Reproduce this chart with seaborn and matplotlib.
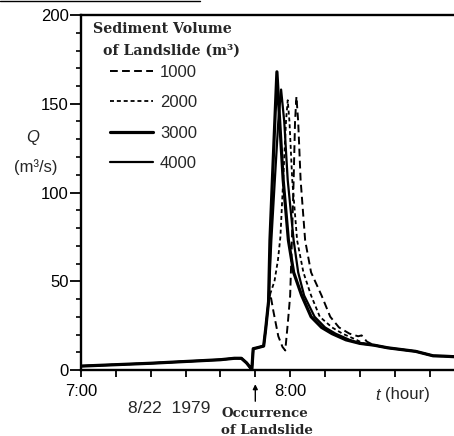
import matplotlib
matplotlib.use("Agg")
import matplotlib.pyplot as plt
import seaborn as sns
import pandas as pd
from matplotlib.lines import Line2D

sns.set_style("ticks")
plt.rcParams['font.family'] = ['Liberation Sans', 'DejaVu Sans']

# Time in minutes after 7:00, discharge Q in m^3/s
base_t = [0, 10, 20, 30, 40, 44, 46, 47.5, 48.5, 49, 49.4, 50.5, 52.4]
base_q = [2.2, 3.0, 3.8, 4.8, 5.8, 6.6, 6.6, 4.0, 1.5, 0.0, 12.0, 12.5, 13.5]

t_1000 = [53, 53.8, 54.3, 55.2, 56.6, 57.8, 58.6, 59.4, 60, 60.5, 61, 61.4, 61.8,
          62.3, 63, 64.3, 66, 69, 71.5, 74, 77, 79.5, 80.5, 82]
q_1000 = [23.5, 38.5, 43, 33, 19, 13, 11, 28, 42, 73, 107, 140, 154,
          140, 107, 73, 55, 42, 30, 24, 20.5, 19, 19.5, 16]

t_2000 = [53, 53.8, 54.3, 55.5, 56.5, 57.2, 58, 58.8, 59.3, 59.8, 60.6, 62,
          63.8, 66, 68.5, 72, 75, 79, 81]
q_2000 = [23.5, 38.5, 43, 50, 62, 75, 107, 140, 152, 140, 107, 73,
          55, 42, 30, 24, 20.5, 17, 15]

t_3000 = [53, 53.8, 54.2, 54.9, 55.6, 56.2, 57.0, 58.0, 59.5, 61, 63.3, 66, 69, 72, 76, 80]
q_3000 = [23.5, 38.5, 73, 107, 140, 168, 140, 107, 73, 55, 42, 30, 24, 20.5, 17, 15]

t_4000 = [53, 53.8, 54.6, 55.6, 56.6, 57.4, 58.3, 59.3, 61, 62.3, 64, 67, 70, 73, 77, 80]
q_4000 = [23.5, 38.5, 73, 107, 140, 158, 140, 107, 73, 55, 42, 30, 24, 20.5, 17, 15]

tail_t = [84, 88, 92, 96, 99, 101, 104, 107]
tail_q = [14, 12.5, 11.5, 10.5, 9, 8, 7.8, 7.5]

volumes = ["1000", "2000", "3000", "4000"]
series_t = [t_1000, t_2000, t_3000, t_4000]
series_q = [q_1000, q_2000, q_3000, q_4000]

line_widths = {"1000": 1.4, "2000": 1.3, "3000": 2.3, "4000": 1.6}
line_dashes = {"1000": (4, 2.2), "2000": (2.2, 1.6), "3000": None, "4000": None}

rows = []
for vol, ts, qs in zip(volumes, series_t, series_q):
    for t, q in zip(base_t + ts + tail_t, base_q + qs + tail_q):
        rows.append({"t": t, "Q": q, "volume": vol})
df = pd.DataFrame(rows)

fig = plt.figure(figsize=(4.54, 4.36), dpi=100)
ax = fig.add_axes([81 / 454, 66 / 436, 373 / 454, 355 / 436])

for vol in volumes:
    sub = df[df["volume"] == vol]
    sns.lineplot(data=sub, x="t", y="Q", ax=ax, color="black",
                 lw=line_widths[vol], estimator=None, sort=False)
    ln = ax.lines[-1]
    if line_dashes[vol] is not None:
        ln.set_dashes(line_dashes[vol])
    ln.set_solid_joinstyle("round")

ax.set_xlim(0, 107)
ax.set_ylim(0, 200)
ax.set_xlabel("")
ax.set_ylabel("")

# axes frame
for side in ["left", "bottom", "top"]:
    ax.spines[side].set_linewidth(1.7)
    ax.spines[side].set_color("black")
ax.spines["right"].set_visible(False)

# ticks
ax.set_xticks(list(range(0, 101, 10)))
ax.set_xticklabels(["7:00", "", "", "", "", "", "8:00", "", "", "", ""])
ax.tick_params(axis="x", direction="out", length=5, width=1.3, pad=5,
               labelsize=12, colors="black")
ax.set_yticks([0, 50, 100, 150, 200])
ax.set_yticks(list(range(0, 201, 10)), minor=True)
ax.tick_params(axis="y", which="major", direction="out", length=8, width=1.3,
               pad=1, labelsize=12, colors="black")
ax.tick_params(axis="y", which="minor", direction="out", length=3.5, width=1.2,
               colors="black")

# axis labels
fig.text(33 / 454, 1 - 137 / 436, "Q", fontsize=12, style="italic",
         ha="center", va="center")
fig.text(36 / 454, 1 - 167 / 436, "(m³/s)", fontsize=12, ha="center", va="center")
fig.text(375 / 454, 1 - 395 / 436, "t", fontsize=12, style="italic",
         ha="left", va="center")
fig.text(385 / 454, 1 - 395 / 436, "(hour)", fontsize=12, ha="left", va="center")
fig.text(169 / 454, 1 - 408 / 436, "8/22  1979", fontsize=12.5, ha="center", va="center")

# landslide marker
ax.annotate("", xy=(50, -0.040), xycoords=("data", "axes fraction"),
            xytext=(50, -0.088), textcoords=("data", "axes fraction"),
            arrowprops=dict(arrowstyle="-|>", color="black", lw=1.0,
                            mutation_scale=7, shrinkA=0, shrinkB=0),
            annotation_clip=False)
serif_bold = dict(family=["DejaVu Serif"], weight="bold", fontsize=9.6)
fig.text(265 / 454, 1 - 413 / 436, "Occurrence", ha="center", va="center", **serif_bold)
fig.text(267 / 454, 1 - 430 / 436, "of Landslide", ha="center", va="center", **serif_bold)

# legend
fig.text(93 / 454, 1 - 29 / 436, "Sediment Volume", ha="left", va="center",
         **dict(serif_bold, fontsize=10.2))
fig.text(103 / 454, 1 - 51 / 436, "of Landslide (m³)", ha="left", va="center",
         **dict(serif_bold, fontsize=10.2))
handles = []
for vol in volumes:
    h = Line2D([], [], color="black", lw=line_widths[vol])
    if line_dashes[vol] is not None:
        h.set_dashes(line_dashes[vol])
    handles.append(h)
ax.legend(handles, volumes, loc="upper left",
          bbox_to_anchor=(110 / 454, 1 - 65 / 436), bbox_transform=fig.transFigure,
          frameon=False, fontsize=12, handlelength=2.6, handletextpad=0.4,
          labelspacing=0.92, borderpad=0, borderaxespad=0)

# page rule at the top edge
fig.add_artist(Line2D([0, 200 / 454], [1 - 1 / 436, 1 - 1 / 436],
                      transform=fig.transFigure, color="black", lw=1.0))

fig.savefig("out.png", dpi=100)
